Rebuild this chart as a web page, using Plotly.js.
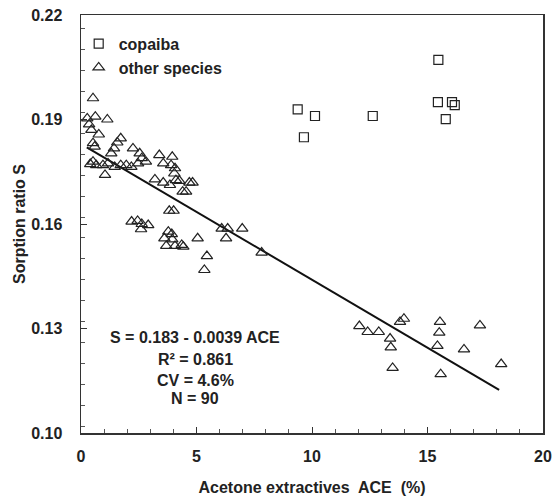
<!DOCTYPE html>
<html>
<head>
<meta charset="utf-8">
<script src="https://cdn.plot.ly/plotly-3.0.1.min.js"></script>
<style>html,body{margin:0;padding:0;background:#fff;}#chart{width:554px;height:498px;}</style>
</head>
<body>
<div id="chart"></div>
<script>
// copaiba samples
const copaibaACE = [15.47, 9.38, 10.13, 9.65, 12.63, 15.45, 16.06, 16.18, 15.79];
const copaibaS   = [0.2071, 0.1929, 0.1910, 0.1849, 0.1910, 0.1950, 0.1950, 0.1941, 0.1901];

// other species
const otherACE = [
  12.05, 12.41, 12.89, 13.81, 13.98, 13.38, 13.41, 13.49, 15.54, 15.51, 15.43, 15.57, 16.58, 17.27, 18.19,
  3.82, 4.01, 2.19, 2.45, 2.63, 2.60, 2.91, 3.78, 3.93, 3.61, 3.95, 3.69, 4.07, 4.36, 4.43, 5.05, 5.45, 5.34, 6.09, 6.35, 6.28, 6.98, 7.82,
  2.63, 2.81, 3.39, 3.56, 3.95, 3.90, 4.07, 4.04, 3.20, 3.56, 3.85, 4.11, 4.26, 4.69, 4.83, 4.40, 4.55,
  0.52, 0.62, 0.27, 1.14, 0.35, 0.45, 0.77, 0.52, 0.59, 1.72, 1.57, 1.43, 1.31, 2.25, 2.54, 0.52, 0.66, 0.40, 0.95, 1.17, 1.46, 1.72, 1.96, 2.18, 2.47, 1.04
];
const otherS = [
  0.1307, 0.1290, 0.1290, 0.1319, 0.1328, 0.1271, 0.1246, 0.1187, 0.1319, 0.1288, 0.1250, 0.1169, 0.1240, 0.1309, 0.1198,
  0.1638, 0.1638, 0.1607, 0.1609, 0.1600, 0.1585, 0.1597, 0.1578, 0.1571, 0.1559, 0.1556, 0.1537, 0.1537, 0.1540, 0.1535, 0.1559, 0.1508, 0.1468, 0.1587, 0.1587, 0.1559, 0.1587, 0.1518,
  0.1789, 0.1779, 0.1798, 0.1774, 0.1793, 0.1769, 0.1760, 0.1745, 0.1728, 0.1719, 0.1712, 0.1726, 0.1724, 0.1719, 0.1719, 0.1693, 0.1693,
  0.1961, 0.1908, 0.1903, 0.1900, 0.1886, 0.1870, 0.1857, 0.1832, 0.1822, 0.1846, 0.1834, 0.1817, 0.1803, 0.1817, 0.1803, 0.1779, 0.1769, 0.1772, 0.1769, 0.1774, 0.1764, 0.1769, 0.1769, 0.1764, 0.1774, 0.1741
];

// regression S = a + b*ACE
const fitIntercept = 0.183;
const fitSlope = -0.0039;
const fitRangeACE = [0.25, 18.1];
const fitS = fitRangeACE.map(x => fitIntercept + fitSlope * x);

const statLines = ["S = 0.183 - 0.0039 ACE", "R² = 0.861", "CV = 4.6%", "N = 90"];
const statY = [0.1273, 0.1212, 0.1152, 0.1098];

const xTicks = [0, 5, 10, 15, 20];
const yTicks = [0.10, 0.13, 0.16, 0.19, 0.22];

const FONT = "Arial, 'Liberation Sans', sans-serif";
const TXT = "#222";

const traces = [
  {
    x: fitRangeACE, y: fitS, mode: "lines", showlegend: false,
    line: {color: "#111", width: 2}, hoverinfo: "skip"
  },
  {
    x: copaibaACE, y: copaibaS, mode: "markers", name: "copaiba",
    marker: {symbol: "square-open", size: 9, color: "#222", line: {width: 1.2, color: "#222"}}
  },
  {
    x: otherACE, y: otherS, mode: "markers", name: "other species",
    marker: {symbol: "triangle-up-open", size: 10, color: "#222", line: {width: 1.2, color: "#222"}}
  }
];

const layout = {
  width: 554, height: 498,
  margin: {l: 81, r: 11, t: 15, b: 65},
  paper_bgcolor: "#fff", plot_bgcolor: "#fff",
  font: {family: FONT, size: 16, color: TXT},
  showlegend: true,
  legend: {
    x: -0.005, y: 0.972, xanchor: "left", yanchor: "top",
    xref: "paper", yref: "paper",
    bgcolor: "rgba(0,0,0,0)",
    font: {family: FONT, size: 16, color: TXT, weight: "bold"},
    tracegroupgap: 0, itemsizing: "trace"
  },
  xaxis: {
    range: [0, 20], tickvals: xTicks, ticktext: xTicks.map(String),
    ticks: "inside", ticklen: 6, tickwidth: 1, tickcolor: "#333",
    minor: {dtick: 1, ticks: "inside", ticklen: 4, tickwidth: 1, tickcolor: "#555"},
    showgrid: false, zeroline: false,
    showline: true, mirror: true, linecolor: "#333", linewidth: 1.5,
    tickfont: {family: FONT, size: 16, color: TXT, weight: "bold"},
    ticklabelstandoff: 8,
    title: {text: "Acetone extractives  ACE  (%)", font: {family: FONT, size: 16, color: TXT, weight: "bold"}, standoff: 18}
  },
  yaxis: {
    range: [0.10, 0.22], tickvals: yTicks, ticktext: yTicks.map(v => v.toFixed(2)),
    ticks: "inside", ticklen: 6, tickwidth: 1, tickcolor: "#333",
    minor: {dtick: 0.006, ticks: "inside", ticklen: 4, tickwidth: 1, tickcolor: "#555"},
    showgrid: false, zeroline: false,
    showline: true, mirror: true, linecolor: "#333", linewidth: 1.5,
    tickfont: {family: FONT, size: 16, color: TXT, weight: "bold"},
    ticklabelstandoff: 14,
    title: {text: "Sorption ratio S", font: {family: FONT, size: 16, color: TXT, weight: "bold"}, standoff: 1}
  },
  annotations: statLines.map((t, i) => ({
    x: 4.94, y: statY[i], xref: "x", yref: "y", text: t, showarrow: false,
    xanchor: "center", yanchor: "middle",
    font: {family: FONT, size: 16, color: TXT, weight: "bold"}
  }))
};

Plotly.newPlot("chart", traces, layout, {displayModeBar: false, staticPlot: true});
</script>
</body>
</html>
